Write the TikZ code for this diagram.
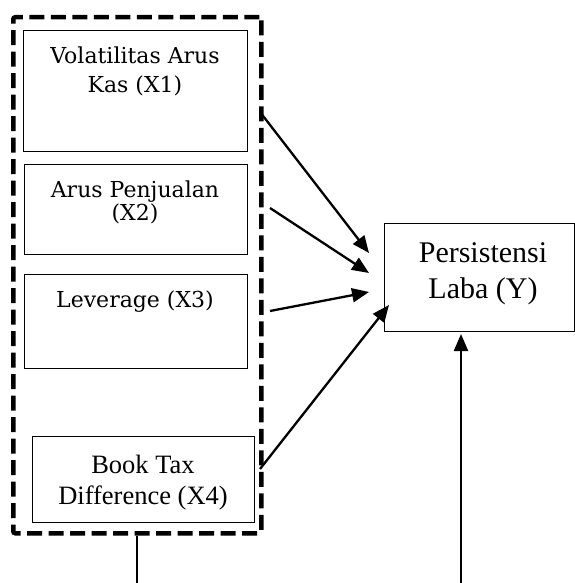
\documentclass[tikz,border=0pt]{standalone}
\usepackage{fontspec}
\setmainfont{Liberation Serif}
\newfontfamily\dvs{DejaVu Serif}
\usetikzlibrary{arrows.meta}
\begin{document}
\begin{tikzpicture}[x=1pt,y=-1pt,
 box/.style={draw,line width=1.3pt,inner sep=0pt,anchor=north west},
 txt/.style={inner sep=0pt,anchor=base},
 cs/.style={font=\dvs\fontsize{22}{26}\selectfont},
 tm/.style={font=\fontsize{26.5}{30}\selectfont},
 tmy/.style={font=\fontsize{30}{34}\selectfont},
 arr/.style={line width=2.3pt,-{Triangle[length=17pt,width=14pt]}},
 plain/.style={line width=2.3pt}]
\useasboundingbox (0,0) rectangle (574,583);
% dashed group
\node[draw,line width=4.5pt,dash pattern=on 15pt off 6.5pt,rounded corners=2pt,
  minimum width=248pt,minimum height=516pt,inner sep=0pt,anchor=north west] (grp) at (11,15) {};
% boxes
\node[box,minimum width=224pt,minimum height=121pt] (b1) at (23,30) {};
\node[box,minimum width=223pt,minimum height=90pt] (b2) at (24,164) {};
\node[box,minimum width=223pt,minimum height=94pt] (b3) at (24,274) {};
\node[box,minimum width=222pt,minimum height=86pt] (b4) at (32,436) {};
\node[box,minimum width=189.5pt,minimum height=108pt] (by) at (384,223) {};
% texts
\node[txt,cs] (t1a) at (135,64) {Volatilitas Arus};
\node[txt,cs] (t1b) at (135,93) {Kas (X1)};
\node[txt,cs] (t2a) at (135,197) {Arus Penjualan};
\node[txt,cs] (t2b) at (135,220) {(X2)};
\node[txt,cs] (t3) at (135,307) {Leverage (X3)};
\node[txt,tm] (t4a) at (143,473) {Book Tax};
\node[txt,tm] (t4b) at (143,504) {Difference (X4)};
\node[txt,tmy] (tya) at (483,262) {Persistensi};
\node[txt,tmy] (tyb) at (483,298) {Laba (Y)};
% connector ends
\coordinate (s1) at (260,112);
\coordinate (e1) at (369,253);
\coordinate (s2) at (270,208);
\coordinate (e2) at (369,273);
\coordinate (s3) at (270,311);
\coordinate (e3) at (369,292);
\coordinate (s4) at (260,469);
\coordinate (e4) at (389,305);
\coordinate (v1) at (137,583);
\coordinate (v2a) at (461,583);
\coordinate (v2b) at (461,334);
\draw[arr] (s1) -- (e1);
\draw[arr] (s2) -- (e2);
\draw[arr] (s3) -- (e3);
\draw[arr] (s4) -- (e4);
\draw[plain] (grp.south -| v1) -- (v1);
\draw[arr] (v2a) -- (v2b);
\end{tikzpicture}
\end{document}
